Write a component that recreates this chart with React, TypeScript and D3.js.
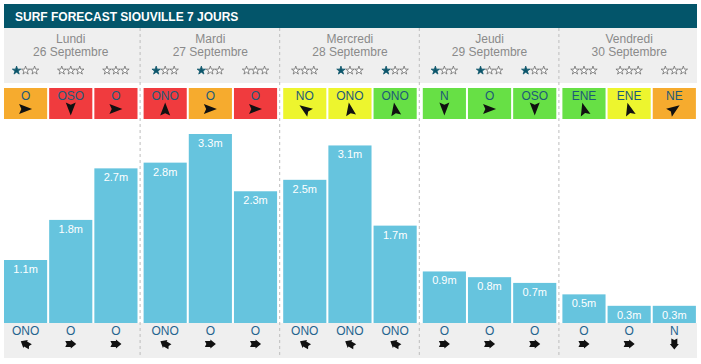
import React from "react";
import * as d3 from "d3";

const days = ["Lundi", "Mardi", "Mercredi", "Jeudi", "Vendredi"];
const dates = ["26 Septembre", "27 Septembre", "28 Septembre", "29 Septembre", "30 Septembre"];
const slots = [0, 1, 2];
const waveHeights = [1.1, 1.8, 2.7, 2.8, 3.3, 2.3, 2.5, 3.1, 1.7, 0.9, 0.8, 0.7, 0.5, 0.3, 0.3];
const starCounts = [1, 0, 0, 1, 1, 0, 0, 1, 1, 1, 1, 1, 0, 0, 0];
const windDirs = ["O", "OSO", "O", "ONO", "O", "O", "NO", "ONO", "ONO", "N", "O", "OSO", "ENE", "ENE", "NE"];
const windLevels = ["orange", "red", "red", "red", "orange", "red", "yellow", "yellow", "green", "green", "green", "green", "green", "yellow", "orange"];
const windAngles = [0, 90, 0, -90, 0, 0, -145, -100, -100, 90, 0, 90, -105, -105, -35];
const swellDirs = ["ONO", "O", "O", "ONO", "O", "O", "ONO", "ONO", "ONO", "O", "O", "O", "O", "O", "N"];
const swellAngles = [-150, 0, 0, -150, 0, 0, -150, -150, -150, 0, 0, 0, 0, 0, 90];

const levelColors: Record<string, string> = {
  orange: "#f6ab2e",
  red: "#f03b3e",
  yellow: "#edf52e",
  green: "#67e045",
};

const FONT = "'Liberation Sans', Arial, sans-serif";

export default function App() {
  const W = 701;
  const H = 364;
  const left = 4;
  const right = 697;
  const dayX = d3.scaleBand<string>().domain(days).range([0, 698]);
  const y = d3.scaleLinear().domain([0, 3.3]).range([323, 134]);
  const starPath = d3.symbol().type(d3.symbolStar).size(22)()!;
  const windArrow = "M-6.5,-5 L6.5,0 L-6.5,5 L-4.2,0 Z";
  const swellArrow = "M-5.5,-3 L0,-3 L0,-4.5 L5.5,0 L0,4.5 L0,3 L-5.5,3 L-4,0 Z";

  const cells: any[] = [];
  days.forEach((d, di) => {
    const x0 = dayX(d)!;
    const cx = d3.scaleBand<number>().domain(slots).range([x0 + 4, x0 + 137.5]).paddingInner(0.045);
    slots.forEach((s) => {
      const i = di * 3 + s;
      cells.push({ i, x: cx(s)!, w: cx.bandwidth() });
    });
  });

  return (
    <svg width={W} height={H} style={{ position: "absolute", left: 0, top: 0 }} fontFamily={FONT}>
      <rect x={0} y={0} width={W} height={H} fill="#fff" />
      <rect x={left} y={4} width={right - left} height={24} fill="#03556a" />
      <text x={15} y={20.5} fill="#fff" fontSize={12} fontWeight="bold">SURF FORECAST SIOUVILLE 7 JOURS</text>
      <rect x={left} y={28} width={right - left} height={55} fill="#efefef" />
      <rect x={left} y={323} width={right - left} height={35} fill="#efefef" />
      {days.map((d, di) => {
        const x0 = dayX(d)!;
        const cxm = x0 + 4 + 133.5 / 2;
        return (
          <g key={d}>
            {di > 0 && (
              <line x1={x0 + 0.5} x2={x0 + 0.5} y1={28} y2={358} stroke="#bdbdbd" strokeDasharray="3,3" />
            )}
            <text x={cxm} y={43} textAnchor="middle" fontSize={12} fill="#8a8a8a">{d}</text>
            <text x={cxm} y={55.5} textAnchor="middle" fontSize={12} fill="#8a8a8a">{dates[di]}</text>
          </g>
        );
      })}
      {cells.map(({ i, x, w }) => {
        const mid = x + w / 2;
        const top = y(waveHeights[i]);
        return (
          <g key={i}>
            {[0, 1, 2].map((k) => (
              <path
                key={k}
                d={starPath}
                transform={`translate(${mid - 9 + k * 9},${70.5})`}
                fill={k < starCounts[i] ? "#0c566b" : "#fff"}
                stroke={k < starCounts[i] ? "#0c566b" : "#6d6d6d"}
                strokeWidth={0.8}
              />
            ))}
            <rect x={x} y={88} width={w} height={31} fill={levelColors[windLevels[i]]} />
            <text x={mid} y={100} textAnchor="middle" fontSize={12} fill="#1d5a78">{windDirs[i]}</text>
            <path d={windArrow} transform={`translate(${mid},${109}) rotate(${windAngles[i]})`} fill="#111" />
            <rect x={x} y={top} width={w} height={323 - top} fill="#66c4de" />
            <text x={mid} y={top + 13} textAnchor="middle" fontSize={11} fill="#fff">
              {waveHeights[i].toFixed(1)}m
            </text>
            <text x={mid} y={335} textAnchor="middle" fontSize={12} fill="#24638e">{swellDirs[i]}</text>
            <path d={swellArrow} transform={`translate(${mid},${344}) rotate(${swellAngles[i]})`} fill="#111" />
          </g>
        );
      })}
    </svg>
  );
}
